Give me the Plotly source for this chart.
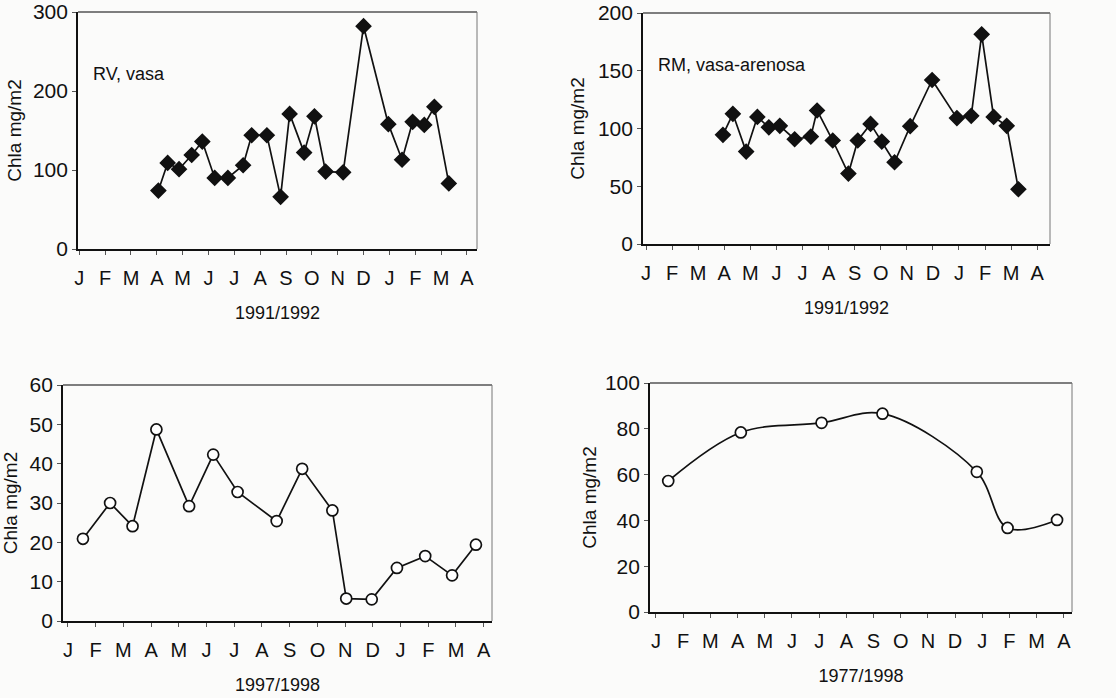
import plotly.graph_objects as go

W, H = 1116, 698
months = ['J', 'F', 'M', 'A', 'M', 'J', 'J', 'A', 'S', 'O', 'N', 'D', 'J', 'F', 'M', 'A']

# Panel 1: RV, vasa (1991/1992)
rv_x = [3.06, 3.42, 3.86, 4.35, 4.76, 5.24, 5.75, 6.34, 6.67, 7.26, 7.79, 8.14, 8.70, 9.10,
        9.53, 10.21, 11.0, 11.96, 12.49, 12.9, 13.35, 13.74, 14.3]
rv_y = [74, 109, 101, 119, 136, 90, 90, 106, 144, 144, 66, 171, 122, 168,
        98, 97, 282, 158, 113, 161, 157, 180, 83]

# Panel 2: RM, vasa-arenosa (1991/1992)
rm_x = [2.95, 3.33, 3.84, 4.27, 4.71, 5.13, 5.70, 6.32, 6.56, 7.16, 7.76, 8.12, 8.61, 9.04,
        9.53, 10.13, 10.97, 11.92, 12.47, 12.87, 13.33, 13.83, 14.28]
rm_y = [94.5, 112.7, 80, 110, 101, 102.3, 90.7, 93, 115.6, 89.6, 61, 89.6, 104, 88.7,
        70.8, 102, 142, 109, 111, 181.5, 110, 102.3, 47.4]

# Panel 3: 1997/1998
p3_x = [0.54, 1.52, 2.33, 3.19, 4.37, 5.24, 6.12, 7.53, 8.45, 9.54, 10.04, 10.96, 11.87, 12.89, 13.86, 14.72]
p3_y = [20.9, 30, 24.1, 48.7, 29.2, 42.3, 32.8, 25.4, 38.7, 28.1, 5.7, 5.5, 13.5, 16.5, 11.6, 19.4]

# Panel 4: 1977/1998
p4_x = [0.45, 3.12, 6.09, 8.33, 11.8, 12.93, 14.75]
p4_y = [57.2, 78.4, 82.6, 86.6, 61.2, 36.7, 40.2]

FONT = "Liberation Sans, Arial, sans-serif"
INK = "#111111"

fig = go.Figure()

panels = [
    dict(box=(78, 477, 12, 249), xr=[-0.05, 15.39], yr=[0, 300], yt=[0, 100, 200, 300], xt="1991/1992",
         x=rv_x, y=rv_y, sym="diamond", fill=INK, shape="linear", ystand=6),
    dict(box=(643, 1050, 13, 244), xr=[-0.115, 15.49], yr=[0, 200], yt=[0, 50, 100, 150, 200], xt="1991/1992",
         x=rm_x, y=rm_y, sym="diamond", fill=INK, shape="linear", ystand=8),
    dict(box=(63, 492, 385, 621), xr=[-0.18, 15.3], yr=[0, 60], yt=[0, 10, 20, 30, 40, 50, 60], xt="1997/1998",
         x=p3_x, y=p3_y, sym="circle", fill="white", shape="linear", ystand=12),
    dict(box=(650, 1072, 383, 612), xr=[-0.22, 15.3], yr=[0, 100], yt=[0, 20, 40, 60, 80, 100], xt="1977/1998",
         x=p4_x, y=p4_y, sym="circle", fill="white", shape="spline", ystand=3),
]

for i, p in enumerate(panels):
    n = "" if i == 0 else str(i + 1)
    l, r, t, b = p["box"]
    xd = [l / W, r / W]
    yd = [1 - b / H, 1 - t / H]
    line = dict(color=INK, width=1.7, shape=p["shape"])
    if p["shape"] == "spline":
        line["smoothing"] = 1.0
    fig.add_trace(go.Scatter(
        x=p["x"], y=p["y"], mode="lines+markers",
        line=line,
        marker=dict(symbol=p["sym"], size=11,
                    color=p["fill"], line=dict(color=INK, width=1.7)),
        xaxis="x" + n, yaxis="y" + n, showlegend=False, cliponaxis=False,
    ))
    fig.update_layout(**{
        "xaxis" + n: dict(
            domain=xd, range=p["xr"], anchor="y" + n, automargin=False,
            tickmode="array", tickvals=list(range(16)), ticktext=months,
            ticks="outside", ticklen=4, tickcolor="#555", tickwidth=1,
            showline=True, linecolor=INK, linewidth=2, mirror=False,
            showgrid=False, zeroline=False,
            tickfont=dict(family=FONT, size=20, color=INK),
            ticklabelstandoff=6,
            title=dict(text=p["xt"], font=dict(family=FONT, size=18, color=INK), standoff=18),
        ),
        "yaxis" + n: dict(
            domain=yd, range=p["yr"], anchor="x" + n, automargin=False,
            tickmode="array", tickvals=p["yt"],
            ticks="outside", ticklen=4, tickcolor="#555", tickwidth=1,
            showline=True, linecolor=INK, linewidth=1.7, mirror=False,
            showgrid=False, zeroline=False,
            tickfont=dict(family=FONT, size=21, color=INK),
            title=dict(text="Chla mg/m2", font=dict(family=FONT, size=19, color=INK), standoff=p["ystand"]),
        ),
    })
    fig.add_shape(type="line", xref="paper", yref="paper", x0=xd[0], x1=xd[1], y0=yd[1], y1=yd[1],
                  line=dict(color="#555", width=1.3))
    fig.add_shape(type="line", xref="paper", yref="paper", x0=xd[1], x1=xd[1], y0=yd[0], y1=yd[1],
                  line=dict(color="#777", width=1))

fig.add_annotation(x=0.45, y=222, xref="x", yref="y", text="RV, vasa", showarrow=False,
                   xanchor="left", yanchor="middle", font=dict(family=FONT, size=18, color=INK))
fig.add_annotation(x=0.40, y=155, xref="x2", yref="y2", text="RM, vasa-arenosa", showarrow=False,
                   xanchor="left", yanchor="middle", font=dict(family=FONT, size=18, color=INK))

fig.update_layout(
    width=W, height=H,
    margin=dict(l=0, r=0, t=0, b=0),
    paper_bgcolor="#fbfbfa", plot_bgcolor="#fbfbfa",
    font=dict(family=FONT, color=INK),
    hovermode=False,
)

# remove the browser's default 8px page margin so the figure fills the window exactly
fig.write_html("out.html", config={"displayModeBar": False},
               post_script="document.body.style.margin='0';")
